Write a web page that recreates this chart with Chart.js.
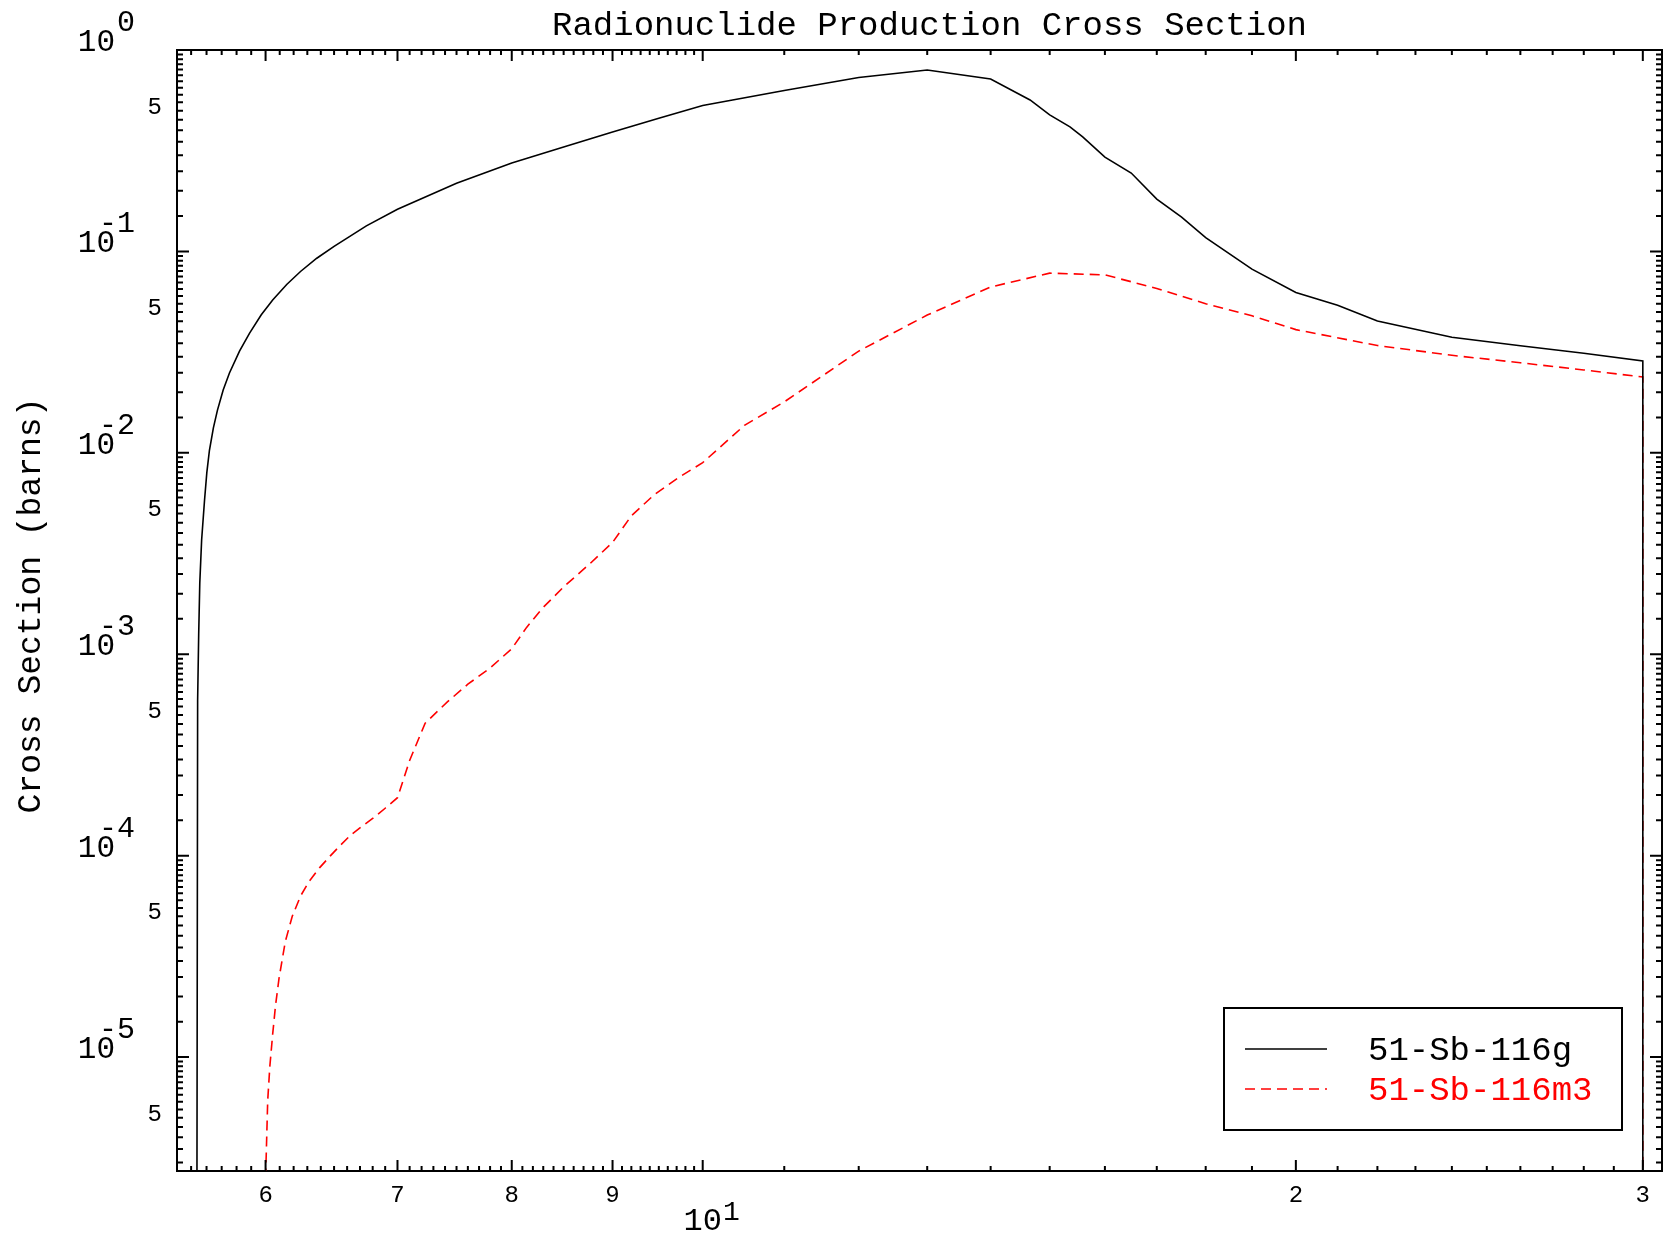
<!DOCTYPE html>
<html><head><meta charset="utf-8">
<script src="https://cdn.jsdelivr.net/npm/chart.js@4.4.1/dist/chart.umd.min.js"></script>
<style>html,body{margin:0;padding:0;background:#fff;}#wrap{width:1667px;height:1236px;}</style>
</head><body><div id="wrap"><canvas id="c" width="1667" height="1236"></canvas></div>
<script>
// ---- data (incident energy in MeV, cross section in barns) ----
const energyG = [5.535, 5.542, 5.549, 5.556, 5.568, 5.587, 5.602, 5.619, 5.645, 5.672, 5.71, 5.752, 5.82, 5.889, 5.97, 6.05, 6.15, 6.25, 6.37, 6.5, 6.75, 7.0, 7.5, 8.0, 8.5, 9.0, 9.5, 10, 11, 12, 13, 14, 14.66, 15, 15.36, 15.59, 16, 16.5, 17, 17.5, 18, 19, 20, 21, 22, 24, 26, 28, 30, 30];
const xsG = [1e-7, 5.9e-4, 1.27e-3, 2.26e-3, 3.69e-3, 5.83e-3, 8.0e-3, 1.03e-2, 1.33e-2, 1.63e-2, 2.05e-2, 2.49e-2, 3.2e-2, 3.93e-2, 4.85e-2, 5.74e-2, 6.85e-2, 0.0795, 0.0925, 0.106, 0.134, 0.162, 0.218, 0.275, 0.33, 0.392, 0.458, 0.53, 0.63, 0.73, 0.796, 0.718, 0.565, 0.476, 0.415, 0.37, 0.294, 0.245, 0.182, 0.148, 0.117, 0.0817, 0.0625, 0.054, 0.0451, 0.0375, 0.034, 0.0312, 0.0286, 1e-7];
const energyM = [5.985, 6.015, 6.03, 6.05, 6.07, 6.095, 6.14, 6.19, 6.25, 6.31, 6.39, 6.47, 6.55, 6.63, 6.71, 6.8, 6.9, 7.0, 7.1, 7.23, 7.42, 7.6, 7.8, 8.0, 8.14, 8.29, 8.5, 8.77, 9.0, 9.2, 9.45, 9.74, 10, 10.5, 11, 12, 13, 14, 15, 16, 17, 18, 19, 20, 22, 24, 26, 28, 30, 30];
const xsM = [1e-6, 6.1e-6, 9e-6, 1.3e-5, 1.8e-5, 2.46e-5, 3.75e-5, 5.0e-5, 6.3e-5, 7.4e-5, 8.7e-5, 9.95e-5, 1.13e-4, 1.27e-4, 1.39e-4, 1.53e-4, 1.72e-4, 1.94e-4, 2.97e-4, 4.55e-4, 5.8e-4, 7.1e-4, 8.55e-4, 1.065e-3, 1.36e-3, 1.69e-3, 2.16e-3, 2.83e-3, 3.59e-3, 4.87e-3, 6.2e-3, 7.63e-3, 8.94e-3, 1.37e-2, 1.79e-2, 3.2e-2, 4.83e-2, 6.66e-2, 7.8e-2, 7.65e-2, 6.55e-2, 5.5e-2, 4.79e-2, 4.09e-2, 3.41e-2, 3.05e-2, 2.8e-2, 2.58e-2, 2.38e-2, 1e-7];
const seriesNames = ['51-Sb-116g', '51-Sb-116m3'];
const seriesColors = ['#000000', '#ff0000'];

// ---- axes ----
const X_MIN = 5.41, X_MAX = 30.68, Y_MIN = 2.72e-6, Y_MAX = 1;
const xMajorTicks = [6, 7, 8, 9, 10, 20, 30];
const xMajorLabels = ['6', '7', '8', '9', '10', '2', '3'];
const xDecadeTick = 10, xDecadeExp = '1';
const yMajorTicks = [1, 1e-1, 1e-2, 1e-3, 1e-4, 1e-5];
const yMajorExps = ['0', '-1', '-2', '-3', '-4', '-5'];
const yFiveTicks = [5e-1, 5e-2, 5e-3, 5e-4, 5e-5, 5e-6];
const yFiveLabel = '5';
const titleText = 'Radionuclide Production Cross Section';
const yTitleText = 'Cross Section (barns)';

function xMinorTicks() {
  const t = [];
  for (let i = 55; i < 100; i++) if (i % 10) t.push(i / 10);
  for (let i = 11; i < 30; i++) if (i !== 20) t.push(i);
  return t;
}
function yMinorTicks() {
  const t = [];
  for (let e = -6; e <= -1; e++) for (let m = 1.5; m < 10; m += 0.5) {
    const v = m * Math.pow(10, e);
    if (v >= Y_MIN && v <= Y_MAX) t.push(v);
  }
  return t;
}

const MONO = '"Liberation Mono", "DejaVu Sans Mono", monospace';

const decor = {
  id: 'decor',
  afterDraw(chart) {
    const ctx = chart.ctx, a = chart.chartArea, sx = chart.scales.x, sy = chart.scales.y;
    ctx.save();
    ctx.strokeStyle = '#000'; ctx.lineWidth = 2; ctx.fillStyle = '#000';
    const tx = (v, len) => {
      const p = sx.getPixelForValue(v);
      ctx.beginPath();
      ctx.moveTo(p, a.bottom); ctx.lineTo(p, a.bottom - len);
      ctx.moveTo(p, a.top); ctx.lineTo(p, a.top + len);
      ctx.stroke();
    };
    const ty = (v, len) => {
      const p = sy.getPixelForValue(v);
      ctx.beginPath();
      ctx.moveTo(a.left, p); ctx.lineTo(a.left + len, p);
      ctx.moveTo(a.right, p); ctx.lineTo(a.right - len, p);
      ctx.stroke();
    };
    xMinorTicks().forEach(v => tx(v, 5));
    xMajorTicks.forEach(v => tx(v, 11));
    yMinorTicks().forEach(v => ty(v, 6));
    yMajorTicks.forEach(v => ty(v, 12));

    // x labels
    ctx.textAlign = 'center'; ctx.textBaseline = 'alphabetic';
    xMajorTicks.forEach((v, i) => {
      const p = sx.getPixelForValue(v);
      if (v === xDecadeTick) {
        ctx.font = '32px ' + MONO;
        ctx.textAlign = 'center';
        ctx.fillText(xMajorLabels[i], p, a.bottom + 59);
        const w = ctx.measureText(xMajorLabels[i]).width;
        ctx.font = '28px ' + MONO;
        ctx.textAlign = 'left';
        ctx.fillText(xDecadeExp, p + w / 2 + 1, a.bottom + 49);
        ctx.textAlign = 'center';
      } else {
        ctx.font = '24px ' + MONO;
        ctx.fillText(xMajorLabels[i], p, a.bottom + 31);
      }
    });

    // y labels
    yMajorTicks.forEach((v, i) => {
      const p = sy.getPixelForValue(v);
      ctx.font = '31px ' + MONO;
      ctx.textAlign = 'right';
      ctx.fillText('10', a.left - 62, p + 1);
      ctx.font = '30px ' + MONO;
      ctx.textAlign = 'left';
      const exp = yMajorExps[i];
      let x0 = a.left - 60;
      if (exp[0] === '-') x0 -= ctx.measureText('-').width;
      ctx.fillText(exp, x0, p - 19);
    });
    ctx.font = '24px ' + MONO;
    ctx.textAlign = 'right';
    yFiveTicks.forEach(v => {
      const p = sy.getPixelForValue(v);
      ctx.fillText(yFiveLabel, a.left - 15, p + 3);
    });

    // titles
    ctx.font = '34px ' + MONO;
    ctx.textAlign = 'center';
    ctx.fillText(titleText, (a.left + a.right) / 2 + 10, 35);
    ctx.save();
    ctx.translate(31, (a.top + a.bottom) / 2 - 5);
    ctx.rotate(-Math.PI / 2);
    ctx.font = '33px ' + MONO;
    ctx.textBaseline = 'middle';
    ctx.fillText(yTitleText, 0, 0);
    ctx.restore();

    // legend box
    const bx = a.right - 438, by = a.bottom - 163, bw = 398, bh = 122;
    ctx.lineWidth = 2;
    ctx.strokeRect(bx, by, bw, bh);
    ctx.font = '34px ' + MONO;
    ctx.textAlign = 'left'; ctx.textBaseline = 'middle';
    seriesNames.forEach((n, i) => {
      const yy = by + 41 + i * 40;
      ctx.strokeStyle = seriesColors[i];
      ctx.lineWidth = 1.6;
      ctx.setLineDash(i === 1 ? [10, 6] : []);
      ctx.beginPath(); ctx.moveTo(bx + 21, yy); ctx.lineTo(bx + 103, yy); ctx.stroke();
      ctx.setLineDash([]);
      ctx.fillStyle = seriesColors[i];
      ctx.fillText(n, bx + 144, yy + 2);
    });
    ctx.restore();
  }
};

const mkData = (xs, ys) => xs.map((e, i) => ({ x: e, y: ys[i] }));
const hiddenAxis = (axis, pos, min, max) => ({
  type: 'logarithmic', axis: axis, position: pos, min: min, max: max,
  grid: { display: false, drawTicks: false }, ticks: { display: false },
  border: { display: true, color: '#000', width: 2 }
});

new Chart(document.getElementById('c'), {
  type: 'line',
  data: {
    datasets: [
      { label: seriesNames[0], data: mkData(energyG, xsG), borderColor: seriesColors[0], borderWidth: 1.6, pointRadius: 0, tension: 0, fill: false },
      { label: seriesNames[1], data: mkData(energyM, xsM), borderColor: seriesColors[1], borderWidth: 1.6, borderDash: [10, 6], pointRadius: 0, tension: 0, fill: false }
    ]
  },
  options: {
    responsive: false, devicePixelRatio: 1, animation: false,
    layout: { padding: { left: 177, top: 50, right: 5, bottom: 65 } },
    plugins: { legend: { display: false }, title: { display: false }, tooltip: { enabled: false } },
    scales: {
      x: hiddenAxis('x', 'bottom', X_MIN, X_MAX),
      x2: hiddenAxis('x', 'top', X_MIN, X_MAX),
      y: hiddenAxis('y', 'left', Y_MIN, Y_MAX),
      y2: hiddenAxis('y', 'right', Y_MIN, Y_MAX)
    }
  },
  plugins: [decor]
});
</script></body></html>
